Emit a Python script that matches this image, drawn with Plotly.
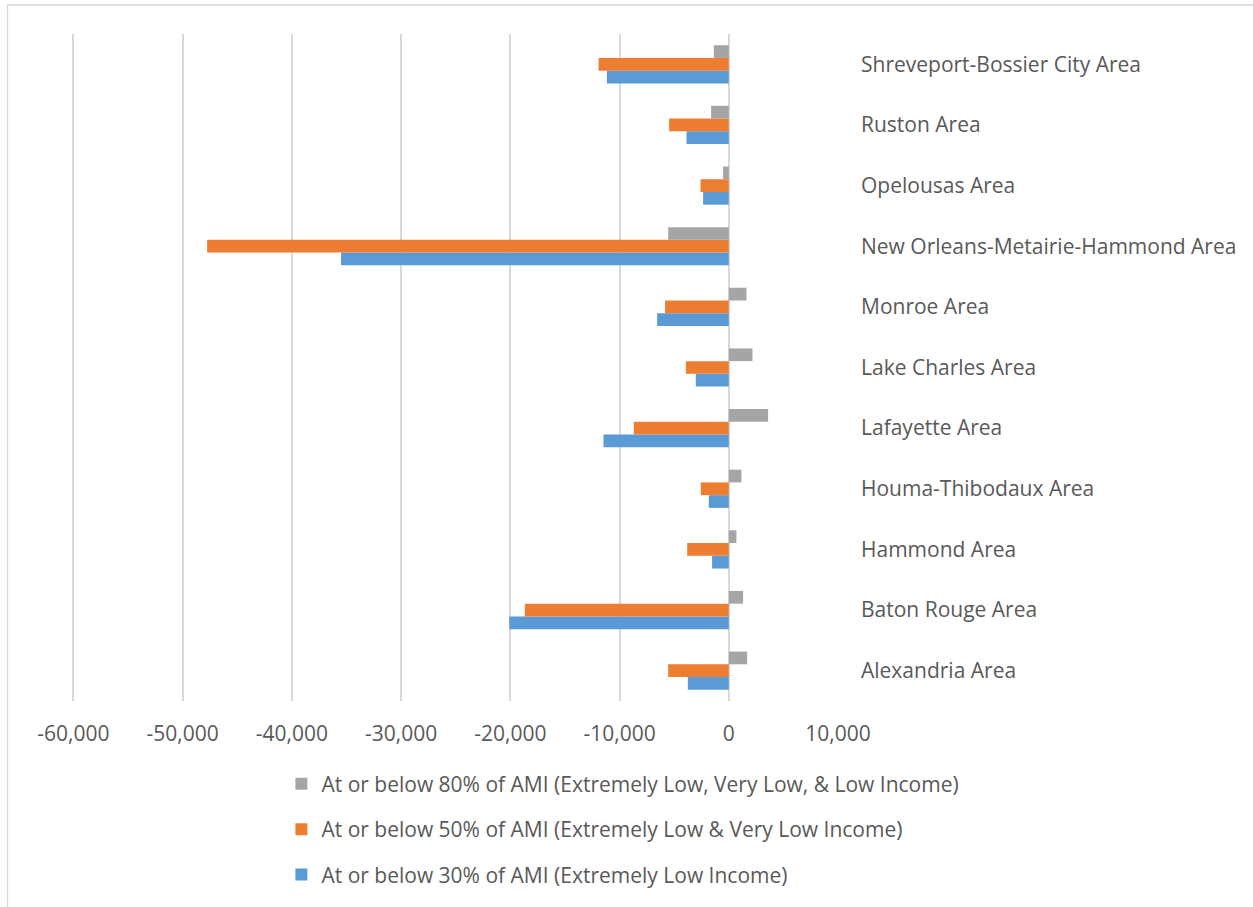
import plotly.graph_objects as go

categories = [
    "Alexandria Area",
    "Baton Rouge Area",
    "Hammond Area",
    "Houma-Thibodaux Area",
    "Lafayette Area",
    "Lake Charles Area",
    "Monroe Area",
    "New Orleans-Metairie-Hammond Area",
    "Opelousas Area",
    "Ruston Area",
    "Shreveport-Bossier City Area",
]

ami30 = [-3750, -20100, -1530, -1830, -11470, -3020, -6560, -35500, -2350, -3870, -11160]
ami50 = [-5550, -18670, -3810, -2560, -8690, -3930, -5830, -47760, -2590, -5460, -11920]
ami80 = [1680, 1310, 700, 1160, 3600, 2170, 1620, -5550, -520, -1620, -1370]

names = [
    "At or below 30% of AMI (Extremely Low Income)",
    "At or below 50% of AMI (Extremely Low & Very Low Income)",
    "At or below 80% of AMI (Extremely Low, Very Low, & Low Income)",
]
colors = ["#5B9BD5", "#ED7D31", "#A5A5A5"]
ranks = [3, 2, 1]

x_ticks = [-60000, -50000, -40000, -30000, -20000, -10000, 0, 10000]
x_ticktext = [f"{v:,}" for v in x_ticks]  # plain hyphen minus

FONT = "Open Sans"
FS = 21
TXT = "#595959"
GRID = "#D9D9D9"

# target geometry (screenshot pixels): axis -60000 at x=73, 10000 at x=838
X0PX, X1PX = 73, 838
XMIN, XMAX = -60000, 10000
PAD = 500  # small padding so the -60,000 gridline is drawn
ppu = (X1PX - X0PX) / (XMAX - XMIN)
PL = X0PX - PAD * ppu
PW = (X1PX - X0PX) + PAD * ppu
PT, PH = 34, 667

fig = go.Figure()
for vals, name, col, rk in zip([ami30, ami50, ami80], names, colors, ranks):
    fig.add_trace(go.Bar(
        y=categories, x=vals, name=name, orientation="h",
        marker=dict(color=col, line=dict(width=0)),
        legendgroup=name, legendrank=rk,
    ))

fig.update_layout(
    width=1253, height=907,
    margin=dict(l=PL, r=1253 - PL - PW, t=PT, b=907 - PT - PH),
    paper_bgcolor="white", plot_bgcolor="white",
    barmode="group", bargap=0.37, bargroupgap=0,
    font=dict(family=FONT, size=FS, color=TXT),
    showlegend=True,
    legend=dict(
        orientation="v", traceorder="grouped",
        x=(X0PX + 0.272 * 765 - PL) / PW, xanchor="left", y=-0.094, yanchor="top",
        font=dict(family=FONT, size=FS, color=TXT),
        tracegroupgap=15, bgcolor="rgba(0,0,0,0)",
    ),
    xaxis=dict(
        range=[XMIN - PAD, XMAX], tickvals=x_ticks, ticktext=x_ticktext,
        showgrid=True, gridcolor=GRID, gridwidth=1.5,
        zeroline=True, zerolinecolor=GRID, zerolinewidth=1.5,
        showline=False, ticks="", ticklabelstandoff=18,
        tickfont=dict(family=FONT, size=FS, color=TXT),
        fixedrange=True,
    ),
    yaxis=dict(
        side="right", showgrid=False, zeroline=False, showline=False,
        ticks="", ticklabelstandoff=22,
        tickfont=dict(family=FONT, size=FS, color=TXT),
        categoryorder="array", categoryarray=categories,
        fixedrange=True,
    ),
    shapes=[dict(
        type="rect", xref="paper", yref="paper",
        x0=(7 - PL) / PW, x1=(1280 - PL) / PW,
        y0=(PT + PH - 930) / PH, y1=(PT + PH - 5) / PH,
        line=dict(color=GRID, width=1.3), fillcolor="rgba(0,0,0,0)",
        layer="below",
    )],
)

fig.write_html(
    "out.html",
    config={"displayModeBar": False},
    post_script="document.body.style.margin='0';document.body.style.padding='0';",
)
